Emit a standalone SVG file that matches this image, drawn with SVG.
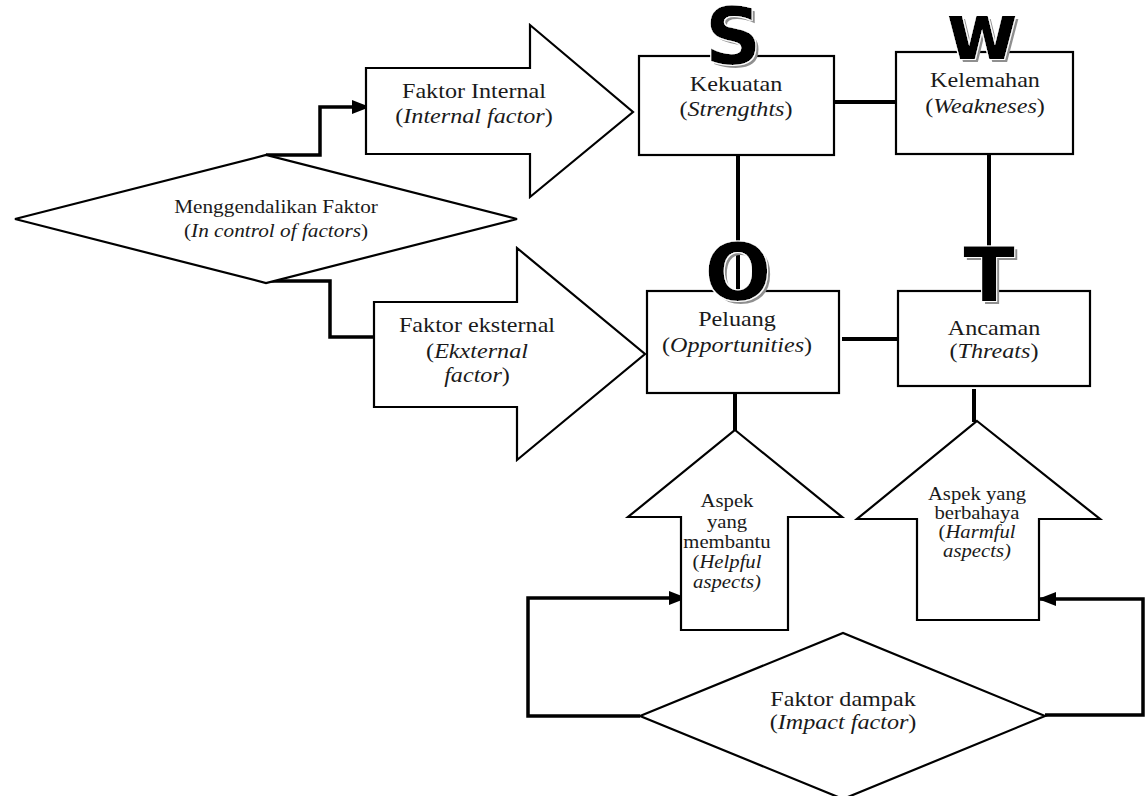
<svg xmlns="http://www.w3.org/2000/svg" width="1145" height="796" viewBox="0 0 1145 796">
<defs>
<marker id="arr" viewBox="0 0 18 14" refX="18" refY="7" markerWidth="18" markerHeight="14" markerUnits="userSpaceOnUse" orient="auto">
<path d="M0,0 L18,7 L0,14 Z" fill="#000"/>
</marker>
<filter id="shadow" x="-20%" y="-20%" width="150%" height="150%">
<feMorphology in="SourceAlpha" operator="dilate" radius="1.2" result="dil"/>
<feFlood flood-color="#ffffff" result="wc"/>
<feComposite in="wc" in2="dil" operator="in" result="white"/>
<feOffset in="SourceAlpha" dx="3" dy="3" result="off"/>
<feFlood flood-color="#8f8f8f" result="gc"/>
<feComposite in="gc" in2="off" operator="in" result="gray"/>
<feMerge><feMergeNode in="gray"/><feMergeNode in="white"/><feMergeNode in="SourceGraphic"/></feMerge>
</filter>
</defs>
<style>
.shape{fill:#fff;stroke:#000;stroke-width:2.2;stroke-linejoin:miter}
.link{fill:none;stroke:#000;stroke-width:4}
.elb{fill:none;stroke:#000;stroke-width:3.5;stroke-linejoin:miter}
.t{font-family:"Liberation Serif","Times New Roman",serif;font-size:21px;fill:#1a1a1a;text-anchor:middle}
.s{font-size:18px}
.m{font-size:18.5px}
.i{font-style:italic}
.big{font-family:"DejaVu Sans",sans-serif;font-weight:bold;font-size:78px;text-anchor:middle;fill:#000;filter:url(#shadow)}
</style>
<rect width="1145" height="796" fill="#fff"/>

<g id="connectors">
<line class="link" x1="834" y1="102" x2="896" y2="102"/>
<line class="link" x1="738" y1="155" x2="738" y2="292"/>
<line class="link" x1="989" y1="154" x2="989" y2="291"/>
<line class="link" x1="842" y1="339" x2="898" y2="339"/>
<line class="link" x1="735" y1="393" x2="735" y2="431"/>
<line class="link" x1="974" y1="389" x2="974" y2="422"/>
<path class="elb" d="M266,155 H320 V107 H370" marker-end="url(#arr)"/>
<path class="elb" d="M267,281 H330 V337 H374"/>
<path class="elb" d="M640,716 H528 V598 H687" marker-end="url(#arr)"/>
<path class="elb" d="M1045,715 H1143 V599 H1038" marker-end="url(#arr)"/>
</g>

<g id="control">
<polygon class="shape" points="15,219 266,155 517,219 266,283"/>
<text class="t m" transform="translate(276,213) scale(1.15,1)">Menggendalikan Faktor</text>
<text class="t m" transform="translate(276,237) scale(1.15,1)">(<tspan class="i">In control of factors</tspan>)</text>
</g>

<g id="internal">
<polygon class="shape" points="366,68 530,68 530,25 633,112 530,197 530,154 366,154"/>
<text class="t" transform="translate(474,98) scale(1.15,1)">Faktor Internal</text>
<text class="t" transform="translate(474,123) scale(1.15,1)">(<tspan class="i">Internal factor</tspan>)</text>
</g>

<g id="external">
<polygon class="shape" points="374,302 517,302 517,248 645,354 517,460 517,407 374,407"/>
<text class="t" transform="translate(477,332) scale(1.15,1)">Faktor eksternal</text>
<text class="t" transform="translate(477,358) scale(1.15,1)">(<tspan class="i">Ekxternal</tspan></text>
<text class="t" transform="translate(477,382) scale(1.15,1)"><tspan class="i">factor</tspan>)</text>
</g>

<g id="strengths">
<rect class="shape" x="639" y="56" width="195" height="99"/>
<text class="t" transform="translate(736,91) scale(1.15,1)">Kekuatan</text>
<text class="t" transform="translate(736,116) scale(1.15,1)">(<tspan class="i">Strengthts</tspan>)</text>
</g>

<g id="weaknesses">
<rect class="shape" x="896" y="52" width="177" height="102"/>
<text class="t" transform="translate(985,87) scale(1.15,1)">Kelemahan</text>
<text class="t" transform="translate(985,113) scale(1.15,1)">(<tspan class="i">Weakneses</tspan>)</text>
</g>

<g id="opportunities">
<rect class="shape" x="647" y="291" width="192" height="102"/>
<text class="t" transform="translate(737,326) scale(1.15,1)">Peluang</text>
<text class="t" transform="translate(737,352) scale(1.15,1)">(<tspan class="i">Opportunities</tspan>)</text>
</g>

<g id="threats">
<rect class="shape" x="898" y="291" width="192" height="95"/>
<text class="t" transform="translate(994,335) scale(1.15,1)">Ancaman</text>
<text class="t" transform="translate(994,358) scale(1.15,1)">(<tspan class="i">Threats</tspan>)</text>
</g>

<g id="helpful">
<polygon class="shape" points="735,430 842,517 788,517 788,630 681,630 681,517 628,517"/>
<text class="t s" transform="translate(727,507) scale(1.15,1)">Aspek</text>
<text class="t s" transform="translate(727,528) scale(1.15,1)">yang</text>
<text class="t s" transform="translate(727,548) scale(1.15,1)">membantu</text>
<text class="t s" transform="translate(727,568) scale(1.15,1)">(<tspan class="i">Helpful</tspan></text>
<text class="t s i" transform="translate(727,588) scale(1.15,1)">aspects)</text>
</g>

<g id="harmful">
<polygon class="shape" points="977,421 1100,519 1039,519 1039,620 917,620 917,519 857,519"/>
<text class="t s" transform="translate(977,500) scale(1.15,1)">Aspek yang</text>
<text class="t s" transform="translate(977,519) scale(1.15,1)">berbahaya</text>
<text class="t s" transform="translate(977,538) scale(1.15,1)">(<tspan class="i">Harmful</tspan></text>
<text class="t s i" transform="translate(977,557) scale(1.15,1)">aspects)</text>
</g>

<g id="impact">
<polygon class="shape" points="640,716 843,633 1045,716 843,799"/>
<text class="t" transform="translate(843,706) scale(1.15,1)">Faktor dampak</text>
<text class="t" transform="translate(843,729) scale(1.15,1)">(<tspan class="i">Impact factor</tspan>)</text>
</g>

<g id="letters">
<text class="big" x="733" y="64">S</text>
<text class="big" x="982" y="59">w</text>
<text class="big" x="738" y="300">O</text>
<text class="big" x="989" y="301" style="font-size:75px">T</text>
</g>
</svg>
